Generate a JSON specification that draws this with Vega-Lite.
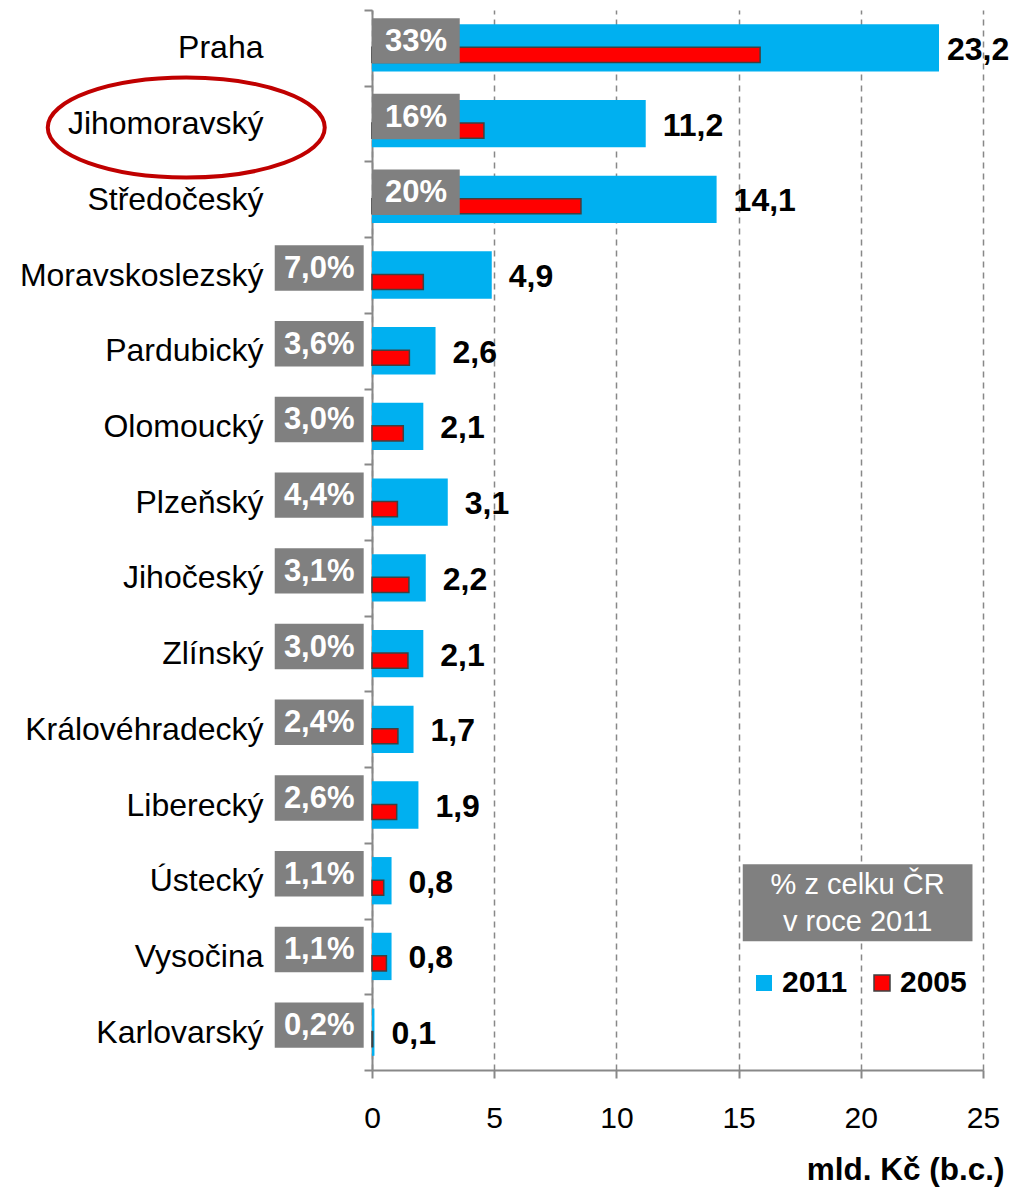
{
  "$schema": "https://vega.github.io/schema/vega-lite/v6.json",
  "width": 611,
  "height": 1060,
  "autosize": {"type": "none"},
  "padding": {"left": 372, "top": 10, "right": 33, "bottom": 119},
  "background": "white",
  "config": {
    "view": {"stroke": null},
    "font": "Liberation Sans",
    "locale": {"number": {"decimal": ",", "thousands": " ", "grouping": [3], "currency": ["", " Kč"]}}
  },
  "data": {
    "values": [
      {"kraj": "Praha", "v2011": 23.2, "v2005": 15.88, "podil": 0.33},
      {"kraj": "Jihomoravský", "v2011": 11.2, "v2005": 4.58, "podil": 0.16},
      {"kraj": "Středočeský", "v2011": 14.1, "v2005": 8.55, "podil": 0.20},
      {"kraj": "Moravskoslezský", "v2011": 4.9, "v2005": 2.1, "podil": 0.070},
      {"kraj": "Pardubický", "v2011": 2.6, "v2005": 1.53, "podil": 0.036},
      {"kraj": "Olomoucký", "v2011": 2.1, "v2005": 1.28, "podil": 0.030},
      {"kraj": "Plzeňský", "v2011": 3.1, "v2005": 1.04, "podil": 0.044},
      {"kraj": "Jihočeský", "v2011": 2.2, "v2005": 1.51, "podil": 0.031},
      {"kraj": "Zlínský", "v2011": 2.1, "v2005": 1.47, "podil": 0.030},
      {"kraj": "Královéhradecký", "v2011": 1.7, "v2005": 1.06, "podil": 0.024},
      {"kraj": "Liberecký", "v2011": 1.9, "v2005": 1.01, "podil": 0.026},
      {"kraj": "Ústecký", "v2011": 0.8, "v2005": 0.48, "podil": 0.011},
      {"kraj": "Vysočina", "v2011": 0.8, "v2005": 0.59, "podil": 0.011},
      {"kraj": "Karlovarský", "v2011": 0.1, "v2005": 0.03, "podil": 0.002}
    ]
  },
  "encoding": {
    "y": {
      "field": "kraj",
      "type": "nominal",
      "sort": null,
      "scale": {"paddingInner": 0, "paddingOuter": 0},
      "axis": {
        "title": null,
        "labelFont": "Liberation Sans",
        "labelFontSize": 32,
        "labelColor": "#000000",
        "labelPadding": 101,
        "labelLimit": 400,
        "tickBand": "extent",
        "tickSize": 8,
        "tickColor": "#888888",
        "tickWidth": 2,
        "domainColor": "#888888",
        "domainWidth": 2,
        "grid": false
      }
    }
  },
  "layer": [
    {
      "mark": {"type": "bar", "color": "#00B0F0", "height": {"band": 0.625}},
      "encoding": {
        "x": {
          "field": "v2011",
          "type": "quantitative",
          "scale": {"domain": [0, 25], "nice": false},
          "axis": {
            "values": [0, 5, 10, 15, 20, 25],
            "title": "mld. Kč (b.c.)",
            "titleFont": "Liberation Sans",
            "titleFontSize": 31.5,
            "titleFontWeight": "bold",
            "titleColor": "#000000",
            "titleAnchor": "end",
            "titleAlign": "right",
            "titleBaseline": "top",
            "titleX": 632,
            "titleY": 84,
            "labelFont": "Liberation Sans",
            "labelFontSize": 30,
            "labelColor": "#000000",
            "labelPadding": 25,
            "labelFlush": false,
            "tickSize": 8,
            "tickColor": "#888888",
            "tickWidth": 2,
            "domainColor": "#888888",
            "domainWidth": 2,
            "grid": true,
            "gridColor": "#888888",
            "gridDash": [6, 5],
            "gridWidth": 1.5
          }
        },
        "color": {
          "datum": "2011",
          "scale": {"domain": ["2011", "2005"], "range": ["#00B0F0", "#FF0000"]},
          "legend": {
            "title": null,
            "orient": "none",
            "legendX": 377,
            "legendY": 958,
            "direction": "horizontal",
            "symbolType": "square",
            "symbolSize": 256,
            "symbolStrokeWidth": 0,
            "labelFont": "Liberation Sans",
            "labelFontSize": 30,
            "labelFontWeight": "bold",
            "labelColor": "#000000",
            "labelOffset": 3,
            "columnPadding": 19,
            "encode": {
              "symbols": {
                "update": {
                  "stroke": [{"test": "datum.value === '2005'", "value": "#404040"}, {"value": null}],
                  "strokeWidth": {"value": 1.5}
                }
              }
            }
          }
        }
      }
    },
    {
      "mark": {"type": "bar", "color": "#FF0000", "stroke": "#404040", "strokeWidth": 1.5, "height": {"band": 0.2}, "yOffset": 7},
      "encoding": {
        "x": {"field": "v2005", "type": "quantitative"},
        "color": {"datum": "2005"}
      }
    },
    {
      "transform": [{"filter": "datum.v2011 < 20"}],
      "mark": {"type": "text", "align": "left", "baseline": "middle", "dx": 17, "dy": 2, "font": "Liberation Sans", "fontSize": 32, "fontWeight": "bold", "color": "#000000"},
      "encoding": {
        "x": {"field": "v2011", "type": "quantitative"},
        "text": {"field": "v2011", "type": "quantitative", "format": ".1f"}
      }
    },
    {
      "transform": [{"filter": "datum.v2011 >= 20"}],
      "mark": {"type": "text", "align": "left", "baseline": "middle", "dx": 8, "dy": 2, "font": "Liberation Sans", "fontSize": 32, "fontWeight": "bold", "color": "#000000"},
      "encoding": {
        "x": {"field": "v2011", "type": "quantitative"},
        "text": {"field": "v2011", "type": "quantitative", "format": ".1f"}
      }
    },
    {
      "transform": [{"filter": "datum.podil < 0.1"}],
      "mark": {"type": "bar", "color": "#808080", "height": {"band": 0.6}, "yOffset": -7},
      "encoding": {
        "x": {"datum": -3.98},
        "x2": {"datum": -0.34}
      }
    },
    {
      "transform": [{"filter": "datum.podil < 0.1"}],
      "mark": {"type": "text", "align": "center", "baseline": "middle", "dy": -6, "font": "Liberation Sans", "fontSize": 31, "fontWeight": "bold", "color": "#FFFFFF"},
      "encoding": {
        "x": {"datum": -2.16},
        "text": {"field": "podil", "type": "quantitative", "format": ".1%"}
      }
    },
    {
      "transform": [{"filter": "datum.podil >= 0.1"}],
      "mark": {"type": "bar", "color": "#808080", "height": {"band": 0.6}, "yOffset": -7},
      "encoding": {
        "x": {"datum": 0},
        "x2": {"datum": 3.59}
      }
    },
    {
      "transform": [{"filter": "datum.podil >= 0.1"}],
      "mark": {"type": "text", "align": "center", "baseline": "middle", "dy": -6, "font": "Liberation Sans", "fontSize": 31, "fontWeight": "bold", "color": "#FFFFFF"},
      "encoding": {
        "x": {"datum": 1.8},
        "text": {"field": "podil", "type": "quantitative", "format": ".0%"}
      }
    },
    {
      "transform": [{"filter": "datum.kraj === 'Jihomoravský'"}],
      "mark": {"type": "point", "shape": "M-1,0A1,0.361,0,1,0,1,0A1,0.361,0,1,0,-1,0Z", "size": 76729, "filled": false, "stroke": "#C00000", "strokeWidth": 4, "opacity": 1, "yOffset": 4},
      "encoding": {
        "x": {"datum": -7.6}
      }
    },
    {
      "transform": [{"filter": "datum.kraj === 'Ústecký'"}],
      "mark": {"type": "bar", "color": "#808080", "height": 77, "yOffset": 22},
      "encoding": {
        "x": {"datum": 15.17},
        "x2": {"datum": 24.57}
      }
    },
    {
      "transform": [{"filter": "datum.kraj === 'Ústecký'"}],
      "mark": {"type": "text", "align": "center", "baseline": "middle", "lineHeight": 37, "yOffset": 4, "font": "Liberation Sans", "fontSize": 29, "color": "#FFFFFF", "text": ["% z celku ČR", "v roce 2011"]},
      "encoding": {
        "x": {"datum": 19.87}
      }
    }
  ]
}
